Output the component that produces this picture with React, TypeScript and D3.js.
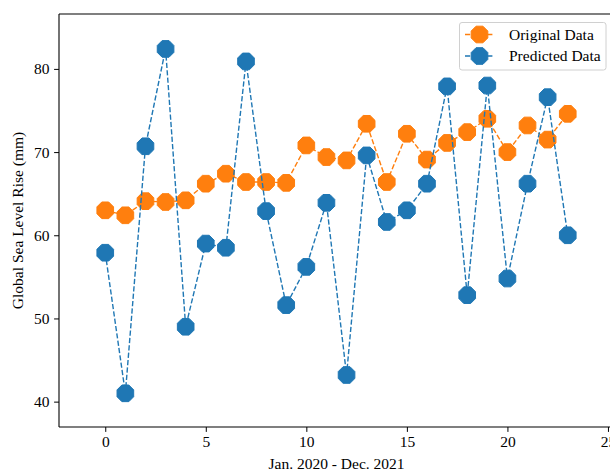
import { useEffect, useRef } from 'react';
import * as d3 from 'd3';

const months = d3.range(24);
const originalData = [63.0, 62.4, 64.1, 64.0, 64.2, 66.2, 67.4, 66.4, 66.4, 66.3, 70.8, 69.4, 69.0, 73.4, 66.4, 72.2, 69.1, 71.1, 72.4, 74.0, 70.0, 73.2, 71.5, 74.6];
const predictedData = [57.9, 41.0, 70.7, 82.4, 49.0, 59.0, 58.5, 80.9, 62.9, 51.6, 56.2, 63.9, 43.2, 69.6, 61.6, 63.0, 66.2, 77.9, 52.8, 78.0, 54.8, 66.2, 76.6, 60.0];
const xTicks = [0, 5, 10, 15, 20, 25];
const yTicks = [40, 50, 60, 70, 80];
const seriesNames = ['Original Data', 'Predicted Data'];
const colors = ['#ff7f0e', '#1f77b4'];

const W = 610;
const H = 473;
const FONT = '"Liberation Serif", "DejaVu Serif", serif';
const FS = '15.5px';

// octagon with flat top, like matplotlib's '8' marker
const octagon = (r: number) => {
  const pts = d3.range(8).map(k => {
    const a = (Math.PI / 8) + k * Math.PI / 4;
    return [r * Math.cos(a), r * Math.sin(a)];
  });
  return 'M' + pts.map(p => p.join(',')).join('L') + 'Z';
};

const App = () => {
  const svgRef = useRef<SVGSVGElement>(null);

  useEffect(() => {
    const svg = d3.select(svgRef.current);
    svg.selectAll('*').remove();

    const margin = { top: 14, right: -4, bottom: 46, left: 59 };
    const x = d3.scaleLinear().domain([-2.3, 25.3]).range([margin.left, W - margin.right]);
    const y = d3.scaleLinear().domain([36.95, 86.6]).range([H - margin.bottom, margin.top]);

    const g = svg.append('g');

    const series = [originalData, predictedData];
    const marker = octagon(9);

    series.forEach((vals, i) => {
      const pts = months.map((m, j) => ({ m, v: vals[j] }));
      const line = d3.line<{ m: number; v: number }>()
        .x(d => x(d.m))
        .y(d => y(d.v));
      g.append('path')
        .datum(pts)
        .attr('fill', 'none')
        .attr('stroke', colors[i])
        .attr('stroke-width', 1.4)
        .attr('stroke-dasharray', '5.2,2.2')
        .attr('d', line);
      g.selectAll(null)
        .data(pts)
        .enter()
        .append('path')
        .attr('d', marker)
        .attr('transform', d => `translate(${x(d.m)},${y(d.v)})`)
        .attr('fill', colors[i])
        .attr('stroke', colors[i])
        .attr('stroke-width', 1);
    });

    // X axis
    const xAxis = svg.append('g')
      .attr('transform', `translate(0,${H - margin.bottom})`)
      .call(d3.axisBottom(x).tickValues(xTicks).tickSize(4.9).tickPadding(4.5).tickFormat(d3.format('d')));
    // Y axis
    const yAxis = svg.append('g')
      .attr('transform', `translate(${margin.left},0)`)
      .call(d3.axisLeft(y).tickValues(yTicks).tickSize(4.9).tickPadding(4.5).tickFormat(d3.format('d')));

    [xAxis, yAxis].forEach(a => {
      a.selectAll('text')
        .style('font-family', FONT)
        .style('font-size', FS)
        .attr('fill', '#000');
      a.selectAll('.domain, .tick line')
        .attr('stroke', '#000')
        .attr('stroke-width', 1);
      a.select('.domain').attr('d', null);
    });

    // spines
    const spine = svg.append('g').attr('stroke', '#000').attr('stroke-width', 1.1).attr('fill', 'none');
    spine.append('line').attr('x1', margin.left).attr('x2', margin.left).attr('y1', margin.top).attr('y2', H - margin.bottom);
    spine.append('line').attr('x1', margin.left).attr('x2', W + 5).attr('y1', H - margin.bottom).attr('y2', H - margin.bottom);
    spine.append('line').attr('x1', margin.left).attr('x2', W + 5).attr('y1', margin.top).attr('y2', margin.top);

    // axis labels
    svg.append('text')
      .attr('x', (margin.left + W - margin.right) / 2)
      .attr('y', 469)
      .attr('text-anchor', 'middle')
      .style('font-family', FONT)
      .style('font-size', FS)
      .text('Jan. 2020 - Dec. 2021');
    svg.append('text')
      .attr('transform', `translate(23,${(margin.top + H - margin.bottom) / 2}) rotate(-90)`)
      .attr('text-anchor', 'middle')
      .style('font-family', FONT)
      .style('font-size', FS)
      .text('Global Sea Level Rise (mm)');

    // legend
    const lg = svg.append('g');
    lg.append('rect')
      .attr('x', 459.5).attr('y', 22.5)
      .attr('width', 146.5).attr('height', 47.5)
      .attr('rx', 2.5)
      .attr('fill', 'rgba(255,255,255,0.8)')
      .attr('stroke', '#d0d0d0')
      .attr('stroke-width', 1);
    seriesNames.forEach((name, i) => {
      const yy = 34.5 + i * 21.5;
      lg.append('line')
        .attr('x1', 465).attr('x2', 494)
        .attr('y1', yy).attr('y2', yy)
        .attr('stroke', colors[i])
        .attr('stroke-width', 1.4)
        .attr('stroke-dasharray', '5.2,2.2');
      lg.append('path')
        .attr('d', marker)
        .attr('transform', `translate(479.5,${yy})`)
        .attr('fill', colors[i])
        .attr('stroke', colors[i]);
      lg.append('text')
        .attr('x', 509)
        .attr('y', yy + 5)
        .style('font-family', FONT)
        .style('font-size', FS)
        .text(name);
    });
  }, []);

  return (
    <svg ref={svgRef} width={W} height={H} style={{ position: 'absolute', left: 0, top: 0, background: '#fff' }} />
  );
};

export default App;
